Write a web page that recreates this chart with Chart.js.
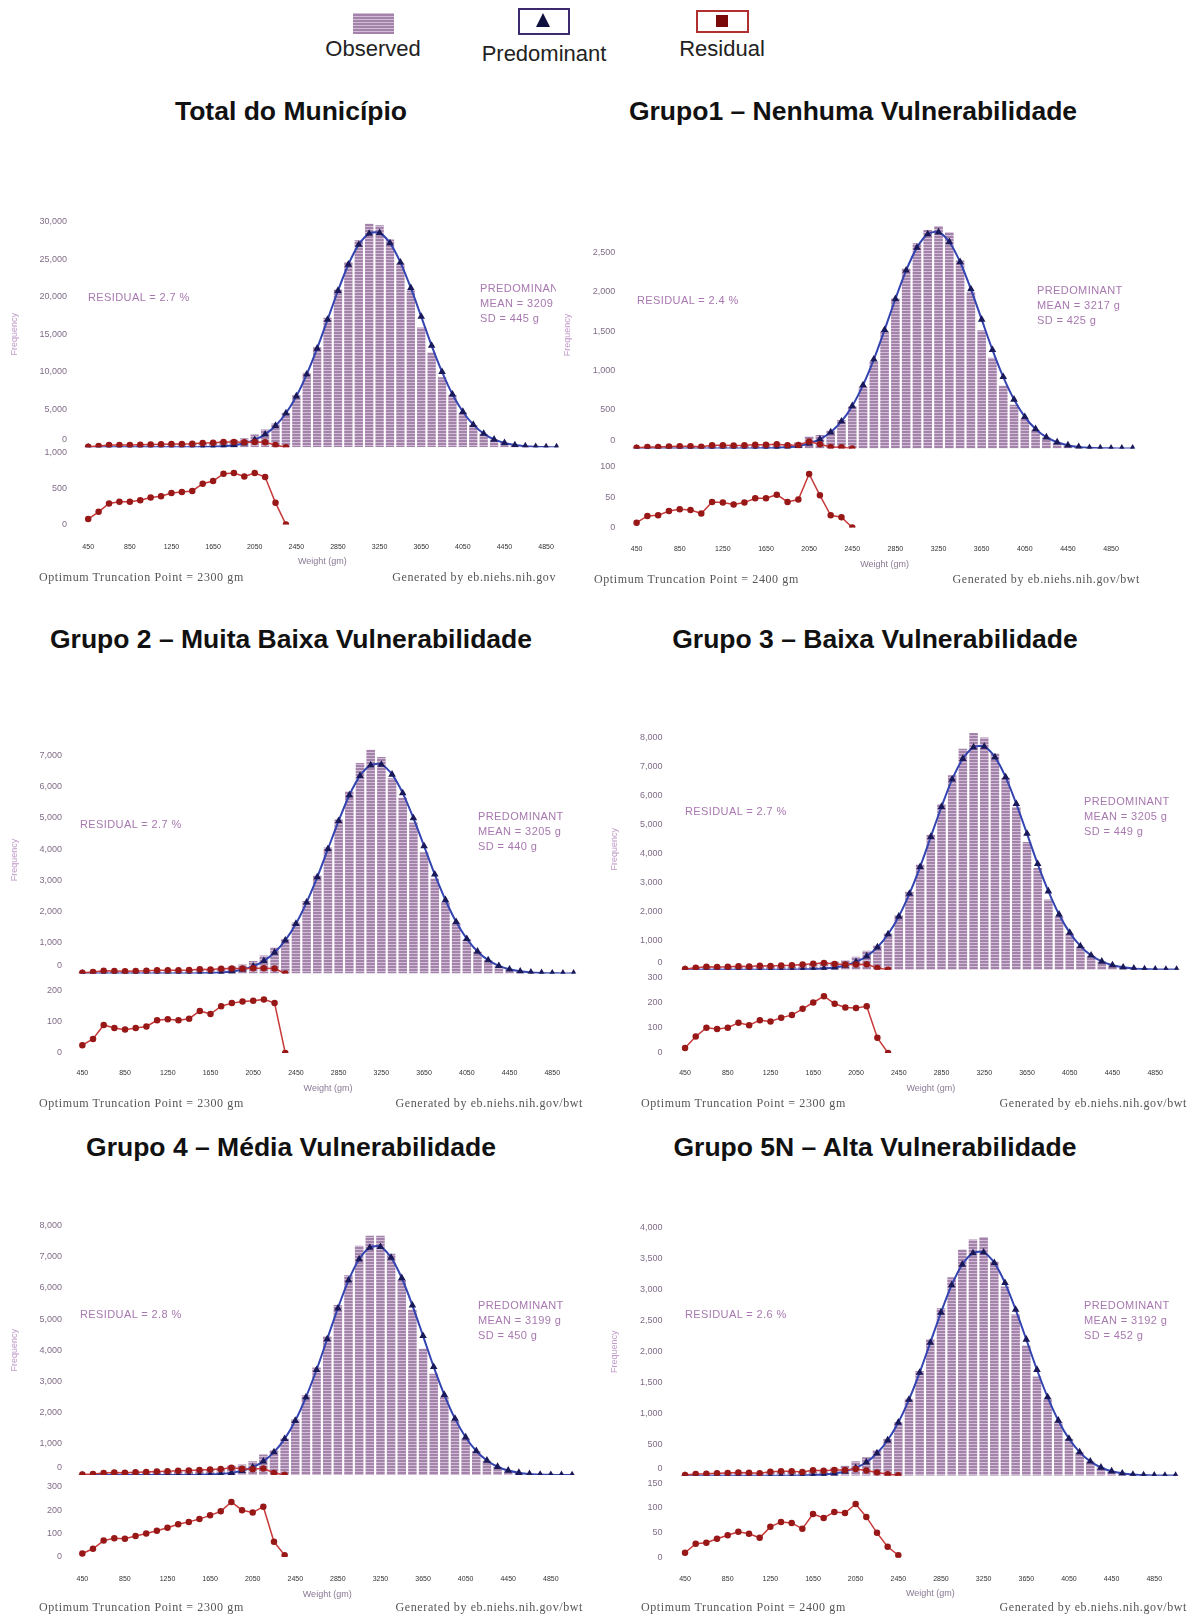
<!DOCTYPE html>
<html><head><meta charset="utf-8">
<script src="https://cdn.jsdelivr.net/npm/chart.js@4.4.1/dist/chart.umd.min.js"></script>
<style>
body{margin:0;width:1193px;height:1616px;background:#fff;position:relative;overflow:hidden;font-family:'Liberation Sans',Arial,sans-serif;}
.title{position:absolute;font-weight:bold;font-size:26.5px;color:#111;white-space:nowrap;transform:translate(-50%,-50%);}
.leg{position:absolute;font-size:22px;color:#222;white-space:nowrap;transform:translate(-50%,-50%);}
.ann{position:absolute;font-size:11px;color:#a878b0;letter-spacing:0.4px;white-space:nowrap;line-height:15px;}
.foot{position:absolute;font-family:'Liberation Serif','Times New Roman',serif;font-size:12px;color:#555;letter-spacing:0.6px;white-space:nowrap;transform:translateY(-50%);}
canvas{position:absolute;}
</style>
</head><body>

<div style="position:absolute;left:353px;top:13px;width:41px;height:21px;background:repeating-linear-gradient(0deg,#a483ab 0 2px,#d2bdd6 2px 3px);"></div>
<div class="leg" style="left:373px;top:49px;">Observed</div>
<div style="position:absolute;left:518px;top:8px;width:48px;height:23px;border:2px solid #3d2a6e;"></div>
<div style="position:absolute;left:536px;top:13px;width:0;height:0;border-left:7px solid transparent;border-right:7px solid transparent;border-bottom:14px solid #101040;"></div>
<div class="leg" style="left:544px;top:54px;">Predominant</div>
<div style="position:absolute;left:696px;top:10px;width:49px;height:19px;border:2px solid #b03030;"></div>
<div style="position:absolute;left:716px;top:15px;width:12px;height:12px;background:#7a0a0a;"></div>
<div class="leg" style="left:722px;top:49px;">Residual</div>

<div class="title" style="left:291px;top:111px;">Total do Município</div>
<div class="title" style="left:853px;top:111px;">Grupo1 – Nenhuma Vulnerabilidade</div>
<div class="title" style="left:291px;top:639px;">Grupo 2 – Muita Baixa Vulnerabilidade</div>
<div class="title" style="left:875px;top:639px;">Grupo 3 – Baixa Vulnerabilidade</div>
<div class="title" style="left:291px;top:1147px;">Grupo 4 – Média Vulnerabilidade</div>
<div class="title" style="left:875px;top:1147px;">Grupo 5N – Alta Vulnerabilidade</div>

<script>
// ---- data ----
const binCenters = [450,550,650,750,850,950,1050,1150,1250,1350,1450,1550,1650,1750,1850,1950,2050,2150,2250,2350,2450,2550,2650,2750,2850,2950,3050,3150,3250,3350,3450,3550,3650,3750,3850,3950,4050,4150,4250,4350,4450,4550,4650,4750,4850,4950,5050];

const obsTotal  = [74,176,292,315,318,338,375,394,440,454,468,598,669,845,995,1206,1702,2378,3161,4600,6900,9900,13300,17200,21000,24600,27500,29700,29500,27600,24400,20800,15900,12600,9300,6900,4600,2950,1800,1050,580,300,150,70,30,15];
const predTotal = [0,0,0,0,0,0,0,0,0,0,0,29,63,137,277,535,984,1716,2860,4519,6778,9695,13127,16960,20792,24281,26913,28371,28457,27113,24567,21164,17360,13499,10010,7036,4719,3003,1816,1044,572,297,146,69,31,14];
const residTotal= [74,176,292,315,318,338,375,394,440,454,468,569,606,708,718,671,718,662,301,0];

const obsG1  = [8,19,20,27,30,29,23,42,41,38,41,49,51,61,58,79,152,172,228,363,540,790,1110,1500,1920,2300,2620,2790,2840,2760,2400,2000,1510,1160,800,560,380,240,140,78,42,20,9,4,2,1,0];
const predG1 = [0,0,0,0,0,0,0,0,0,0,0,1,3,7,16,33,64,119,208,346,543,809,1138,1515,1909,2274,2565,2737,2762,2637,2382,2036,1648,1260,914,626,404,249,144,80,42,20,9,4,2,1,0];
const residG1= [8,19,20,27,30,29,23,42,41,38,41,48,48,54,42,46,88,53,20,17,0];

const obsG2  = [25,45,90,80,75,80,85,105,108,105,110,142,140,182,225,291,400,577,835,1100,1640,2330,3150,4050,4950,5850,6770,7190,6960,6280,5650,4850,3900,3050,2300,1620,1090,700,425,245,135,70,34,16,7,3,1];
const predG2 = [0,0,0,0,0,0,0,0,0,0,0,7,15,32,65,126,232,405,675,1067,1600,2288,3098,4003,4907,5731,6352,6696,6716,6399,5798,4995,4097,3186,2363,1661,1114,709,429,246,135,70,34,16,7,3,1];
const residG2= [25,45,90,80,75,80,85,105,108,105,110,135,125,150,160,165,168,172,160,0];

const obsG3  = [20,65,100,95,100,120,110,130,125,140,150,183,217,262,270,324,444,648,832,1250,1880,2680,3620,4650,5700,6700,7610,8150,8000,7450,6600,5600,4400,3500,2420,1820,1240,790,480,280,150,80,39,19,8,4,2];
const predG3 = [0,0,0,0,0,0,0,0,0,0,0,8,17,37,75,144,266,463,772,1220,1830,2617,3543,4578,5612,6554,7265,7658,7681,7319,6631,5713,4686,3644,2702,1899,1274,811,490,282,154,80,39,19,8,4,2];
const residG3= [20,65,100,95,100,120,110,130,125,140,150,175,200,225,195,180,178,185,60,0];

const obsG4  = [15,35,70,80,78,90,100,112,125,140,150,169,194,230,306,337,443,656,800,1170,1780,2560,3450,4450,5450,6400,7350,7670,7670,7090,6250,5300,4050,3250,2500,1750,1180,760,460,265,146,75,37,18,8,4,1];
const predG4 = [0,0,0,0,0,0,0,0,0,0,0,7,16,35,71,137,253,441,735,1161,1742,2492,3374,4359,5344,6240,6916,7291,7313,6968,6314,5439,4461,3469,2573,1808,1213,772,467,268,147,76,37,18,8,4,1];
const residG4= [15,35,70,80,78,90,100,112,125,140,150,162,178,195,235,200,190,215,65,8];

const obsG5  = [10,28,30,38,45,52,48,40,62,72,70,62,96,97,127,158,233,299,412,594,863,1240,1690,2200,2700,3200,3650,3810,3850,3450,3050,2600,2100,1600,1240,870,590,375,228,130,72,38,18,9,4,2,1];
const predG5 = [0,0,0,0,0,0,0,0,0,0,0,4,8,17,35,68,125,217,362,572,858,1227,1662,2147,2632,3073,3406,3591,3602,3432,3110,2679,2197,1709,1267,891,597,380,230,132,72,38,18,9,4,2,1];
const residG5= [10,28,30,38,45,52,48,40,62,72,70,58,88,80,92,90,108,82,50,22,5];

const residualPct = ['2.7 %','2.4 %','2.7 %','2.7 %','2.8 %','2.6 %'];
const means = ['3209 g','3217 g','3205 g','3205 g','3199 g','3192 g'];
const sds = ['445 g','425 g','440 g','449 g','450 g','452 g'];
const truncation = ['2300','2400','2300','2300','2300','2400'];
const generatedBy = ['Generated by eb.niehs.nih.gov','Generated by eb.niehs.nih.gov/bwt','Generated by eb.niehs.nih.gov/bwt','Generated by eb.niehs.nih.gov/bwt','Generated by eb.niehs.nih.gov/bwt','Generated by eb.niehs.nih.gov/bwt'];

// ---- layout (positions / sizes only) ----
const panels = [
 {obs:obsTotal,pred:predTotal,res:residTotal, l:0,t:200,w:575,h:370, yW:83,padTop:16,padRight:8,xH:45.6,wMain:229.7,wLow:78.4,yMax:30000,yStep:5000,lowMax:1078,lowStep:500,yTickPad:16,yTitlePad:9.6,xTickPad:18.4,xTitlePad:2.6,
  ann:{rx:88,ry:297,px:480,py:288,clip:76}, foot:{y:577,lx:39,rx:556}},
 {obs:obsG1,pred:predG1,res:residG1, l:560,t:200,w:590,h:373, yW:71.2,padTop:15.6,padRight:7,xH:45.5,wMain:231.4,wLow:80.5,yMax:2900,yStep:500,lowMax:130,lowStep:50,yTickPad:16,yTitlePad:2.2,xTickPad:17.3,xTitlePad:3,
  ann:{rx:637,ry:300,px:1037,py:290}, foot:{y:579,lx:594,rx:1140}},
 {obs:obsG2,pred:predG2,res:residG2, l:0,t:726,w:590,h:371, yW:77,padTop:16.5,padRight:9,xH:44,wMain:230,wLow:80.5,yMax:7300,yStep:1000,lowMax:255,lowStep:100,yTickPad:15,yTitlePad:9,xTickPad:16.3,xTitlePad:2.6,
  ann:{rx:80,ry:824,px:478,py:816}, foot:{y:1103,lx:39,rx:583}},
 {obs:obsG3,pred:predG3,res:residG3, l:600,t:706,w:593,h:391, yW:79.7,padTop:16.3,padRight:10.4,xH:44,wMain:245.7,wLow:85,yMax:8300,yStep:1000,lowMax:330,lowStep:100,yTickPad:17.3,yTitlePad:9.6,xTickPad:16.3,xTitlePad:2.6,
  ann:{rx:685,ry:811,px:1084,py:801}, foot:{y:1103,lx:641,rx:1187}},
 {obs:obsG4,pred:predG4,res:residG4, l:0,t:1205,w:590,h:398, yW:77,padTop:16,padRight:9,xH:46,wMain:253,wLow:83,yMax:8000,yStep:1000,lowMax:350,lowStep:100,yTickPad:15,yTitlePad:9,xTickPad:17.8,xTitlePad:2.6,
  ann:{rx:80,ry:1314,px:478,py:1305}, foot:{y:1607,lx:39,rx:583}},
 {obs:obsG5,pred:predG5,res:residG5, l:600,t:1205,w:593,h:397, yW:79.7,padTop:16,padRight:10.4,xH:44.3,wMain:253,wLow:83.7,yMax:4000,yStep:500,lowMax:165,lowStep:50,yTickPad:17.3,yTitlePad:9.6,xTickPad:17.3,xTitlePad:2.6,
  ann:{rx:685,ry:1314,px:1084,py:1305}, foot:{y:1607,lx:641,rx:1187}}
];

Chart.defaults.font.family = "'Liberation Sans', Arial, sans-serif";

function makePattern(){
  const c=document.createElement('canvas'); c.width=4; c.height=3;
  const g=c.getContext('2d');
  g.fillStyle='#a483ab'; g.fillRect(0,0,4,3);
  g.fillStyle='#d2bdd6'; g.fillRect(0,2,4,1);
  return g.createPattern(c,'repeat');
}
const barPattern = makePattern();
const fmt = v => Number(v).toLocaleString('en-US');
const tickColor = '#806c88';

function stepTicks(step){
  return s => {
    const t=[];
    for (let v=0; v<=s.max+1e-9; v+=step) t.push({value:v});
    s.ticks=t;
  };
}

const zeroLabel = {
  id:'zeroLabel',
  afterDraw(chart){
    const s=chart.scales.y, ctx=chart.ctx;
    ctx.save();
    ctx.font="9px 'Liberation Sans', Arial, sans-serif";
    ctx.fillStyle=tickColor; ctx.textAlign='right'; ctx.textBaseline='middle';
    ctx.fillText('0', s.right - s.options.ticks.padding, s.getPixelForValue(0) - 7.5);
    ctx.restore();
  }
};

function addDiv(cls, style, html){
  const d=document.createElement('div'); d.className=cls; d.setAttribute('style',style); d.innerHTML=html; document.body.appendChild(d); return d;
}

panels.forEach((p, k) => {
  const cv=document.createElement('canvas');
  cv.width=p.w; cv.height=p.h;
  cv.style.left=p.l+'px'; cv.style.top=p.t+'px'; cv.style.width=p.w+'px'; cv.style.height=p.h+'px';
  document.body.appendChild(cv);
  const labels=binCenters.slice(0,p.obs.length).map(String);
  const redLine = {borderColor:'#c83a3a', borderWidth:1.5, pointRadius:2.5, pointBackgroundColor:'#981818', pointBorderColor:'#981818', tension:0};
  new Chart(cv,{
    type:'bar',
    data:{labels, datasets:[
      {type:'bar', label:'Observed', data:p.obs, yAxisID:'y', backgroundColor:barPattern, barPercentage:0.8, categoryPercentage:1, order:3},
      {type:'line', label:'Predominant', data:p.pred, yAxisID:'y', borderColor:'#3444b0', borderWidth:2, pointStyle:'triangle', pointRadius:2.4, pointBackgroundColor:'#1a1a5a', pointBorderColor:'#1a1a5a', tension:0.3, order:2},
      Object.assign({type:'line', label:'Residual', data:p.res, yAxisID:'y', order:1}, redLine),
      Object.assign({type:'line', label:'Residual (zoom)', data:p.res, yAxisID:'yr', order:1}, redLine)
    ]},
    options:{
      responsive:false, animation:false, events:[],
      layout:{padding:{top:p.padTop,right:p.padRight,left:0,bottom:0}},
      plugins:{legend:{display:false}, tooltip:{enabled:false}},
      scales:{
        x:{type:'category', offset:true, grid:{display:false,drawTicks:false}, border:{display:false},
           ticks:{autoSkip:false,maxRotation:0,minRotation:0,padding:p.xTickPad,font:{size:7},color:'#333',
                  callback:(v,i)=> i%4===0 ? labels[i] : ''},
           title:{display:true,text:'Weight (gm)',font:{size:9},color:'#8a7a95',padding:{top:0,bottom:p.xTitlePad}},
           afterFit:s=>{s.height=p.xH;}},
        yr:{type:'linear', position:'left', stack:'v', stackWeight:p.wLow, weight:1, min:0, max:p.lowMax,
            grid:{display:false,drawTicks:false}, border:{display:false},
            ticks:{autoSkip:false,padding:p.yTickPad,font:{size:9},color:tickColor,callback:v=>fmt(v)},
            afterBuildTicks:stepTicks(p.lowStep),
            afterFit:s=>{s.width=p.yW;}},
        y:{type:'linear', position:'left', stack:'v', stackWeight:p.wMain, weight:2, min:0, max:p.yMax,
           grid:{display:false,drawTicks:false}, border:{display:false},
           ticks:{autoSkip:false,padding:p.yTickPad,font:{size:9},color:tickColor,callback:v=> v===0?'':fmt(v)},
           title:{display:true,text:'Frequency',font:{size:9},color:'#c09ac8',padding:{top:p.yTitlePad,bottom:0}},
           afterBuildTicks:stepTicks(p.yStep),
           afterFit:s=>{s.width=p.yW;}}
      }
    },
    plugins:[zeroLabel]
  });

  addDiv('ann', `left:${p.ann.rx}px;top:${p.ann.ry-7.5}px;`, 'RESIDUAL = '+residualPct[k]);
  const clip = p.ann.clip ? `width:${p.ann.clip}px;overflow:hidden;` : '';
  addDiv('ann', `left:${p.ann.px}px;top:${p.ann.py-7.5}px;${clip}`, 'PREDOMINANT<br>MEAN = '+means[k]+'<br>SD = '+sds[k]);
  addDiv('foot', `left:${p.foot.lx}px;top:${p.foot.y}px;`, 'Optimum Truncation Point = '+truncation[k]+' gm');
  addDiv('foot', `right:${1193-p.foot.rx}px;top:${p.foot.y}px;`, generatedBy[k]);
});
</script>
</body></html>
